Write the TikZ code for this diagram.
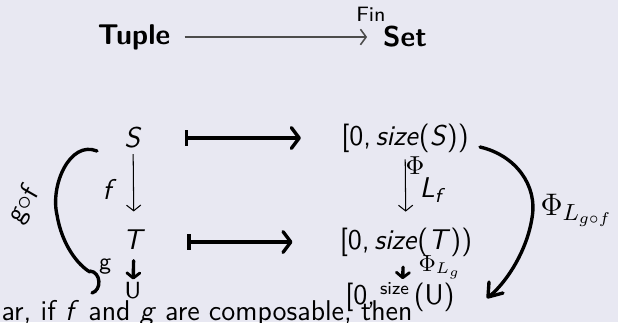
\documentclass[tikz,border=0pt]{standalone}
\usepackage{amsmath, amssymb}
\usepackage{xcolor}
\usepackage{tikz}
\usetikzlibrary{arrows.meta, positioning, calc}

\newcommand{\intv}[1]{[0,\,\textsl{size}(\textsl{#1}))}

\begin{document}
\begin{tikzpicture}[x=0.385pt, y=-0.385pt, font=\sffamily\fontsize{11}{13}\selectfont,
  typed/.style={inner sep=0pt},
  maparrow/.style={line width=0.4pt, -{Straight Barb[length=2.2pt,width=5.5pt]}},
  hand/.style={line width=1.3pt, line cap=round, line join=round},
  handmap/.style={hand, {Bar[width=6pt,line width=1.3pt]}-{Straight Barb[length=3pt,width=8pt,line width=1.3pt,round]}},
  handdown/.style={hand, -{Straight Barb[length=2pt,width=5pt,line width=1.1pt,round]}},
  handtext/.style={inner sep=0pt, font=\sffamily\fontsize{9}{10}\selectfont}]
% --- SLIDE: FUNTOR Tuple -> FinSet COM ANOTACOES A MAO ---
\definecolor{slidebg}{RGB}{232,232,242}

\fill[slidebg] (0,0) rectangle (618,322);
\clip (0,0) rectangle (618,322);

% LAYER 1: Titulo
\node[typed] (tup) at (134,37) {\textbf{Tuple}};
\node[typed] (set) at (405,37) {\textbf{Set}};
\draw[black!70, line width=0.6pt, -{Straight Barb[length=2.2pt,width=6pt]}, shorten <=5.4pt, shorten >=6pt] (tup) -- (set);
\node[handtext, font=\sffamily\fontsize{8}{9}\selectfont] (fin) at (371,14) {Fin};

% LAYER 2: Diagrama digitado
\node[typed] (S) at (133,138) {\textsl{S}};
\node[typed] (T) at (134,240) {\textsl{T}};
\node[typed] (intS) at (405,138) {\intv{S}};
\node[typed] (intT) at (406,242) {\intv{T}};

\draw[maparrow, shorten <=2pt, shorten >=7pt] (S) -- (T) node[midway, left=3pt] {\textsl{f}};
\draw[maparrow, shorten <=2.5pt, shorten >=6pt] (intS) -- (intT) node[midway, right=2pt] {$\textsl{L}_{\textsl{f}}$};

% LAYER 3: Setas |-> a mao
\draw[handmap, shorten <=16.5pt, shorten >=15.4pt] (S) -- (intS);
\draw[handmap, shorten <=16pt, shorten >=18pt] (T.east |- intT) -- (intT);

% LAYER 4: g, U e g o f (esquerda)
\node[handtext] (U) at (133,291) {U};
\draw[handdown, shorten <=4pt, shorten >=1pt] (T) -- (U) node[midway, left=8pt, handtext] {g};
\draw[hand] (97,151) .. controls (70,140) and (50,185) .. (57,215) .. controls (62,245) and (78,265) .. (90,272);
\draw[hand] (90,271) .. controls (101,272) and (102,290) .. (92,293);
\node[handtext, rotate=60, font=\sffamily\fontsize{11}{12}\selectfont] (gof) at (24,205) {g$\circ$f};

% LAYER 5: Phi (direita)
\node[handtext, font=\fontsize{10}{11}\selectfont] (phiF) at (415,166) {$\Phi$};
\node[handtext, font=\sffamily\fontsize{11}{12}\selectfont] (intU) at (400,297) {[0,\,\raisebox{4pt}{\fontsize{7}{8}\selectfont size}\,(U)};
\draw[handdown, shorten <=4pt, shorten >=1pt] ([xshift=-1pt]intT.south) -- ([xshift=1pt]intU.north);
\node[handtext, anchor=west] (phiG) at (418,267) {$\Phi_{L_g}$};
\draw[hand] (480,147) .. controls (515,155) and (538,185) .. (532,218) .. controls (527,250) and (508,280) .. (491,295);
\draw[hand] (489,282) -- (488,297) -- (503,293);
\node[handtext, anchor=west, font=\fontsize{13}{14}\selectfont] (phiGF) at (540,210) {$\Phi_{L_{g\circ f}}$};

% LAYER 6: Texto do slide
\node[typed, anchor=base west] (txt) at (1,320) {ar, if \textsl{f} and \textsl{g} are composable, then};
\end{tikzpicture}
\end{document}
